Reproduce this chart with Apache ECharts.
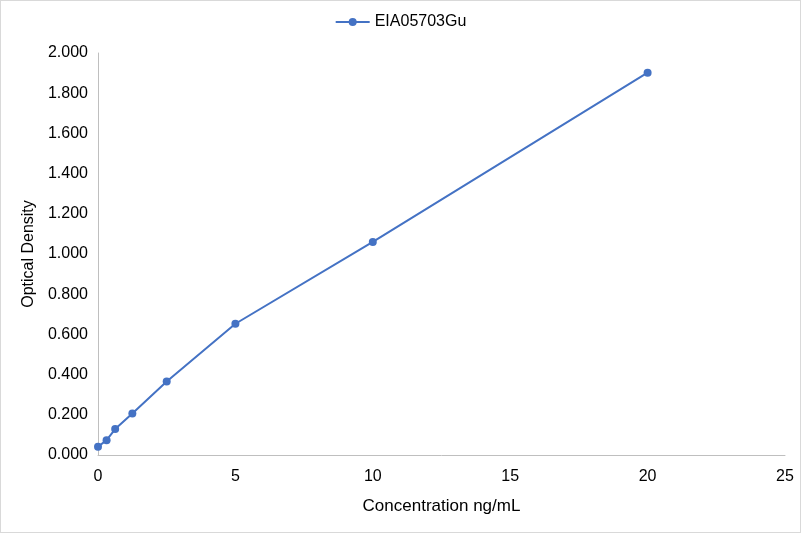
<!DOCTYPE html>
<html>
<head>
<meta charset="utf-8">
<script src="https://cdn.jsdelivr.net/npm/echarts@6/dist/echarts.min.js"></script>
<style>
  html, body { margin: 0; padding: 0; background: #fff; }
  #chart { width: 801px; height: 533px; box-sizing: border-box; border: 1px solid #d9d9d9; }
</style>
</head>
<body>
<div id="chart"></div>
<script>
// standard curve data
const seriesName = "EIA05703Gu";
const concentrations = [0, 0.3125, 0.625, 1.25, 2.5, 5, 10, 20];
const densities = [0.041, 0.074, 0.129, 0.207, 0.366, 0.653, 1.060, 1.902];

const chart = echarts.init(document.getElementById("chart"));

const labelFont = { color: "#000", fontFamily: "Liberation Sans, Arial", fontSize: 16 };

chart.setOption({
  animation: false,
  color: ["#4472c4"],
  legend: {
    top: 8,
    left: "center",
    itemWidth: 34,
    itemHeight: 10,
    itemGap: 6,
    textStyle: labelFont,
    data: [seriesName],
  },
  grid: { left: 97, right: 15, top: 52, bottom: 77 },
  xAxis: {
    type: "value",
    min: 0,
    max: 25,
    interval: 5,
    name: "Concentration ng/mL",
    nameLocation: "middle",
    nameGap: 43,
    nameTextStyle: Object.assign({}, labelFont, { fontSize: 17 }),
    axisLine: { show: true, lineStyle: { color: "#bfbfbf", width: 1 } },
    axisTick: { show: false },
    splitLine: { show: false },
    axisLabel: Object.assign({ margin: 14 }, labelFont),
  },
  yAxis: {
    type: "value",
    min: 0,
    max: 2,
    interval: 0.2,
    name: "Optical Density",
    nameLocation: "middle",
    nameGap: 57,
    nameTextStyle: labelFont,
    axisLine: { show: true, lineStyle: { color: "#bfbfbf", width: 1 } },
    axisTick: { show: false },
    splitLine: { show: false },
    axisLabel: Object.assign({ margin: 10, formatter: (v) => v.toFixed(3) }, labelFont),
  },
  series: [
    {
      name: seriesName,
      type: "line",
      data: concentrations.map((c, i) => [c, densities[i]]),
      symbol: "circle",
      symbolSize: 8,
      lineStyle: { width: 2 },
    },
  ],
});
</script>
</body>
</html>
